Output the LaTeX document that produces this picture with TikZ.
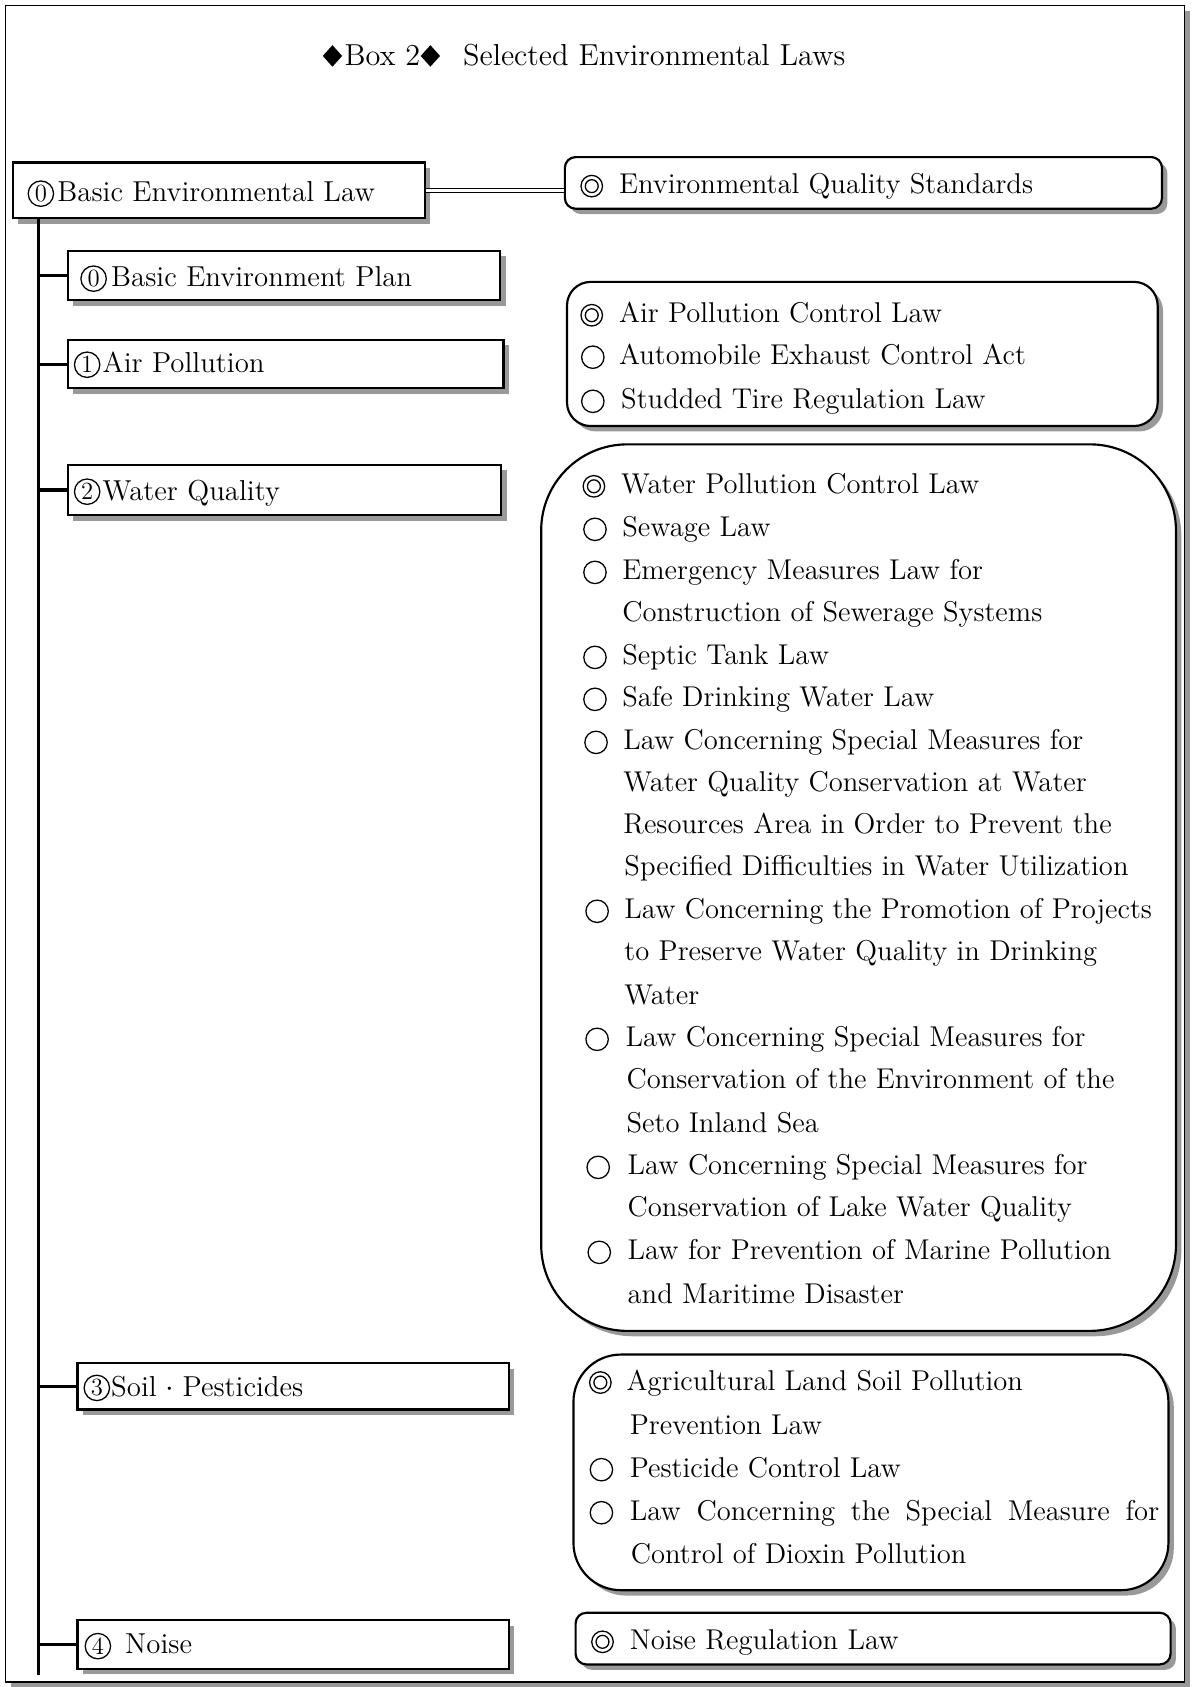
\documentclass[tikz,border=0pt]{standalone}
\usetikzlibrary{fit,shadows}
\begin{document}
\begin{tikzpicture}[x=0.5pt,y=-0.5pt,
  shad/.style={drop shadow={shadow xshift=2.5pt, shadow yshift=-2.5pt, fill=black!40, opacity=1}},
  lbox/.style={draw, line width=1pt, fill=white, inner sep=0pt, shad},
  rbox/.style={lbox, rounded corners=#1},
  ltext/.style={anchor=base west, inner sep=0pt, font=\fontsize{13.4}{15}\selectfont},
  rtext/.style={anchor=base west, inner sep=0pt, font=\fontsize{13.3}{15}\selectfont},
  ttext/.style={anchor=base west, inner sep=0pt, font=\fontsize{14.1}{16}\selectfont},
  cnum/.style={draw, circle, line width=0.6pt, inner sep=0pt, minimum size=11.8pt, font=\fontsize{11.5}{12}\selectfont},
  trunk/.style={line width=1.5pt},
  sym/.style={line width=0.6pt},
  dsym/.pic={\draw[sym] (0,0) circle (5pt) (0,0) circle (3pt);},
  osym/.pic={\draw[sym] (0,0) circle (5.2pt);}
]
\useasboundingbox (0,0) rectangle (1108,1568);
% outer frame
\node[lbox, line width=0.8pt, fit={(5,5) (1101,1563)}] (frame) {};
% title
\fill (309,42) -- (318,52) -- (309,62) -- (300,52) -- cycle;
\node[ttext] (tbox) at (320,61) {Box 2};
\fill (400,42) -- (409,52) -- (400,62) -- (391,52) -- cycle;
\node[ttext] (ttitle) at (430,61) {Selected Environmental Laws};

% left boxes
\node[lbox, fit={(12,151) (395,203)}] (L0) {};
\node[lbox, fit={(63,233) (465,279)}] (L1) {};
\node[lbox, fit={(63,316) (468,361)}] (L2) {};
\node[lbox, fit={(63,432) (466,479)}] (L3) {};
\node[lbox, fit={(72,1267) (473,1310)}] (L4) {};
\node[lbox, fit={(72,1506) (473,1551)}] (L5) {};

% right boxes
\node[rbox=5pt, fit={(525,146) (1080,194)}] (R0) {};
\node[rbox=11pt, fit={(527,262) (1076,396)}] (R1) {};
\node[rbox=40pt, fit={(503,413) (1093,1237)}] (R2) {};
\node[rbox=22pt, fit={(533,1259) (1086,1478)}] (R3) {};
\node[rbox=5pt, fit={(535,1499) (1088,1547)}] (R4) {};

% trunk and ticks
\coordinate (tTop) at (36,203);
\coordinate (tBot) at (36,1557);
\draw[trunk] (tTop) -- (tBot);
\foreach \b in {L1,L2,L3,L4,L5} \draw[trunk] (\b.west -| tTop) -- (\b.west);
% double connector
\draw[double, line width=0.6pt, double distance=1.5pt] (L0.east) -- (L0.east -| R0.west);

% left texts
\node[cnum] (c0) at (38,180) {0};
\node[ltext] (t0) at (53,187) {Basic Environmental Law};
\node[cnum] (c1) at (87,259) {0};
\node[ltext] (t1) at (103,266) {Basic Environment Plan};
\node[cnum] (c2) at (81,339) {1};
\node[ltext] (t2) at (95,346) {Air Pollution};
\node[cnum] (c3) at (81,457) {2};
\node[ltext] (t3) at (95,465) {Water Quality};
\node[cnum] (c4) at (90,1290) {3};
\node[ltext] (t4) at (103,1298) {Soil\hspace{4pt}$\cdot$\hspace{4pt}Pesticides};
\node[cnum] (c5) at (91,1530) {4};
\node[ltext] (t5) at (116,1537) {Noise};

% R0
\pic at (550,173) {dsym};
\node[rtext] (e1) at (575,180) {Environmental Quality Standards};
% R1
\pic at (550,293) {dsym};
\pic at (551,332) {osym};
\pic at (551,373) {osym};
\node[rtext] (a1) at (575,300) {Air Pollution Control Law};
\node[rtext] (a2) at (575,339) {Automobile Exhaust Control Act};
\node[rtext] (a3) at (577,380) {Studded Tire Regulation Law};
% R2
\pic at (552,452) {dsym};
\foreach \x/\y in {553/492,553/532,553/611,553/650,554/690,555/847,555/966,556/1085,557/1164}
  \pic at (\x,\y) {osym};
\foreach \x/\y/\t [count=\i] in {
  577/459/Water Pollution Control Law,
  578/499/Sewage Law,
  578/539/Emergency Measures Law for,
  578/578/Construction of Sewerage Systems,
  578/618/Septic Tank Law,
  578/657/Safe Drinking Water Law,
  579/697/Law Concerning Special Measures for,
  579/736/Water Quality Conservation at Water,
  579/775/Resources Area in Order to Prevent the,
  580/814/Specified Difficulties in Water Utilization,
  580/854/Law Concerning the Promotion of Projects,
  580/893/to Preserve Water Quality in Drinking,
  580/934/Water,
  581/973/Law Concerning Special Measures for,
  582/1012/Conservation of the Environment of the,
  582/1053/Seto Inland Sea,
  583/1092/Law Concerning Special Measures for,
  583/1131/Conservation of Lake Water Quality,
  583/1171/Law for Prevention of Marine Pollution,
  583/1212/and Maritime Disaster}
  \node[rtext] (w\i) at (\x,\y) {\t};
% R3
\pic at (558,1285) {dsym};
\pic at (559,1366) {osym};
\pic at (559,1406) {osym};
\node[rtext] (s1) at (582,1292) {Agricultural Land Soil Pollution};
\node[rtext] (s2) at (585,1333) {Prevention Law};
\node[rtext] (s3) at (585,1373) {Pesticide Control Law};
\node[rtext] (s4) at (585,1413) {\makebox[246pt][s]{Law Concerning the Special Measure for}};
\node[rtext] (s5) at (586,1453) {Control of Dioxin Pollution};
% R4
\pic at (560,1526) {dsym};
\node[rtext] (n1) at (585,1533) {Noise Regulation Law};
\end{tikzpicture}
\end{document}
